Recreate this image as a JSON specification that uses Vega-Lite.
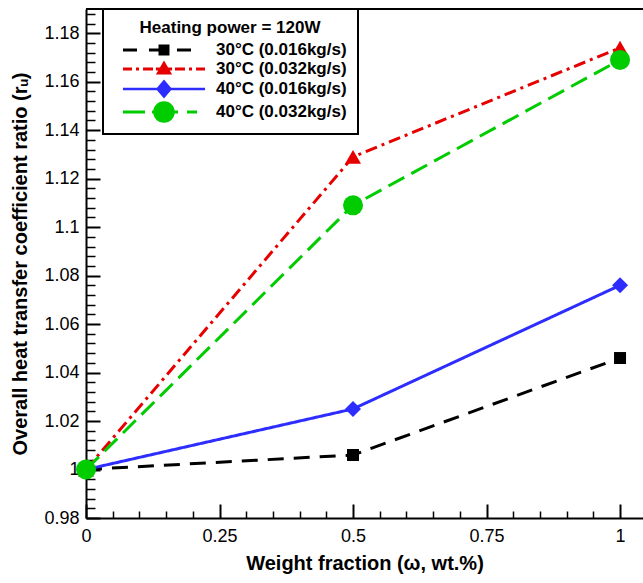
{
  "$schema": "https://vega.github.io/schema/vega-lite/v6.json",
  "width": 557,
  "height": 509,
  "autosize": {"type": "none"},
  "padding": {"left": 86, "top": 9, "right": 0, "bottom": 65},
  "config": {"view": {"stroke": null}, "font": "Liberation Sans", "legend": {"strokeWidth": 2}},
  "data": {
    "values": [
      {"series": "30°C (0.016kg/s)", "w": 0, "r": 1.0},
      {"series": "30°C (0.016kg/s)", "w": 0.5, "r": 1.006},
      {"series": "30°C (0.016kg/s)", "w": 1, "r": 1.046},
      {"series": "30°C (0.032kg/s)", "w": 0, "r": 1.0},
      {"series": "30°C (0.032kg/s)", "w": 0.5, "r": 1.129},
      {"series": "30°C (0.032kg/s)", "w": 1, "r": 1.174},
      {"series": "40°C (0.016kg/s)", "w": 0, "r": 1.0},
      {"series": "40°C (0.016kg/s)", "w": 0.5, "r": 1.025},
      {"series": "40°C (0.016kg/s)", "w": 1, "r": 1.076},
      {"series": "40°C (0.032kg/s)", "w": 0, "r": 1.0},
      {"series": "40°C (0.032kg/s)", "w": 0.5, "r": 1.109},
      {"series": "40°C (0.032kg/s)", "w": 1, "r": 1.169}
    ]
  },
  "encoding": {
    "x": {
      "field": "w", "type": "quantitative",
      "scale": {"domain": [0, 1.043], "nice": false, "zero": false},
      "axis": {
        "values": [0, 0.05, 0.1, 0.15, 0.2, 0.25, 0.3, 0.35, 0.4, 0.45, 0.5, 0.55, 0.6, 0.65, 0.7, 0.75, 0.8, 0.85, 0.9, 0.95, 1],
        "title": "Weight fraction (ω, wt.%)",
        "titleFontSize": 20, "titleFontWeight": "bold", "titleColor": "black", "titlePadding": 8,
        "labelFontSize": 18, "labelColor": "black", "labelPadding": 23,
        "labelFlush": false, "labelOverlap": false, "labelBound": false,
        "labelExpr": "abs(datum.value*4-round(datum.value*4))<0.001 ? format(datum.value,'~g') : ''",
        "ticks": true, "tickSize": -14, "tickColor": "black",
        "tickWidth": {"condition": {"test": "abs(datum.value*4-round(datum.value*4))<0.001", "value": 2}, "value": 1.5},
        "tickDash": {"condition": {"test": "abs(datum.value*4-round(datum.value*4))<0.001", "value": [20, 0]}, "value": [7, 30]},
        "domainColor": "black", "domainWidth": 2, "grid": false
      }
    },
    "y": {
      "field": "r", "type": "quantitative",
      "scale": {"domain": [0.98, 1.19], "nice": false, "zero": false},
      "axis": {
        "values": [0.98, 0.984, 0.988, 0.992, 0.996, 1, 1.004, 1.008, 1.012, 1.016, 1.02, 1.024, 1.028, 1.032, 1.036, 1.04, 1.044, 1.048, 1.052, 1.056, 1.06, 1.064, 1.068, 1.072, 1.076, 1.08, 1.084, 1.088, 1.092, 1.096, 1.1, 1.104, 1.108, 1.112, 1.116, 1.12, 1.124, 1.128, 1.132, 1.136, 1.14, 1.144, 1.148, 1.152, 1.156, 1.16, 1.164, 1.168, 1.172, 1.176, 1.18, 1.184, 1.188],
        "title": "Overall heat transfer coefficient ratio (rᵤ)",
        "titleFontSize": 20, "titleFontWeight": "bold", "titleColor": "black", "titlePadding": 13,
        "labelFontSize": 18, "labelColor": "black", "labelPadding": 21,
        "labelFlush": false, "labelOverlap": false, "labelBound": false,
        "labelExpr": "abs(datum.value*50-round(datum.value*50))<0.0001 ? format(datum.value,'~g') : ''",
        "ticks": true, "tickSize": -14, "tickColor": "black",
        "tickWidth": {"condition": {"test": "abs(datum.value*50-round(datum.value*50))<0.0001", "value": 2}, "value": 1.5},
        "tickDash": {"condition": {"test": "abs(datum.value*50-round(datum.value*50))<0.0001", "value": [20, 0]}, "value": [9, 30]},
        "domainColor": "black", "domainWidth": 2, "grid": false
      }
    }
  },
  "layer": [
    {
      "mark": {"type": "line", "strokeWidth": 3},
      "encoding": {
        "color": {
          "field": "series", "type": "nominal",
          "scale": {
            "domain": ["30°C (0.016kg/s)", "30°C (0.032kg/s)", "40°C (0.016kg/s)", "40°C (0.032kg/s)"],
            "range": ["#000000", "#e60000", "#2d2dff", "#00cc00"]
          },
          "legend": {
            "orient": "none", "legendX": 17, "legendY": 0, "direction": "vertical",
            "title": "Heating power = 120W", "titleLimit": 400,
            "titleFontSize": 17, "titleFontWeight": "bold", "titleColor": "black",
            "titleAnchor": "middle", "titlePadding": 4,
            "padding": 11, "strokeColor": "black", "fillColor": "white",
            "symbolSize": 324, "symbolStrokeWidth": 0, "symbolOffset": 41, "symbolOpacity": 1,
            "labelOffset": 43, "labelFontSize": 17, "labelFontWeight": "bold", "labelColor": "black",
            "labelLimit": 400, "rowPadding": 2
          }
        },
        "strokeDash": {
          "field": "series", "type": "nominal",
          "scale": {
            "domain": ["30°C (0.016kg/s)", "30°C (0.032kg/s)", "40°C (0.016kg/s)", "40°C (0.032kg/s)"],
            "range": [[16, 10], [12, 5, 3, 5], [1, 0], [18, 8]]
          },
          "legend": null
        }
      }
    },
    {
      "mark": {"type": "point", "filled": true, "size": 0, "opacity": 1},
      "encoding": {
        "color": {"field": "series", "type": "nominal"},
        "shape": {
          "field": "series", "type": "nominal",
          "scale": {
            "domain": ["30°C (0.016kg/s)", "30°C (0.032kg/s)", "40°C (0.016kg/s)", "40°C (0.032kg/s)"],
            "range": [
              "M-4.56,-0.17H-3V0.17H-4.56ZM-1.67,-0.17H0.56V0.17H-1.67ZM1.44,-0.17H3V0.17H1.44ZM-0.61,-0.61H0.61V0.61H-0.61Z",
              "M-4.56,-0.17H-3.56V0.17H-4.56ZM-3.11,-0.17H-2.78V0.17H-3.11ZM-2.33,-0.17H-1.22V0.17H-2.33ZM-0.9,-0.17H0.9V0.17H-0.9ZM1.22,-0.17H2.33V0.17H1.22ZM2.78,-0.17H3.11V0.17H2.78ZM3.56,-0.17H4.56V0.17H3.56ZM0,-0.95L0.9,0.62H-0.9Z",
              "M-4.56,-0.15H4.56V0.15H-4.56ZM0,-1.05L0.9,0L0,1.05L-0.9,0Z",
              "M-4.56,-0.17H-2.11V0.17H-4.56ZM-1.33,-0.17H1.56V0.17H-1.33ZM2.56,-0.17H3.67V0.17H2.56ZM1.2,0A1.2,1.2,0,1,1,-1.2,0A1.2,1.2,0,1,1,1.2,0Z"
            ]
          },
          "legend": {
            "orient": "none", "legendX": 17, "legendY": 0, "direction": "vertical",
            "title": "Heating power = 120W", "titleLimit": 400,
            "titleFontSize": 17, "titleFontWeight": "bold", "titleColor": "black",
            "titleAnchor": "middle", "titlePadding": 4,
            "padding": 11, "strokeColor": "black", "fillColor": "white",
            "symbolSize": 324, "symbolStrokeWidth": 0, "symbolOffset": 41, "symbolOpacity": 1,
            "labelOffset": 43, "labelFontSize": 17, "labelFontWeight": "bold", "labelColor": "black",
            "labelLimit": 400, "rowPadding": 2
          }
        }
      }
    },
    {
      "transform": [{"filter": "datum.series === '30°C (0.016kg/s)'"}],
      "mark": {"type": "point", "filled": true, "opacity": 1, "shape": "square", "size": 144},
      "encoding": {"color": {"field": "series", "type": "nominal"}}
    },
    {
      "transform": [{"filter": "datum.series === '30°C (0.032kg/s)'"}],
      "mark": {"type": "point", "filled": true, "opacity": 1, "shape": "triangle-up", "size": 256},
      "encoding": {"color": {"field": "series", "type": "nominal"}}
    },
    {
      "transform": [{"filter": "datum.series === '40°C (0.016kg/s)'"}],
      "mark": {"type": "point", "filled": true, "opacity": 1, "shape": "diamond", "size": 256},
      "encoding": {"color": {"field": "series", "type": "nominal"}}
    },
    {
      "transform": [{"filter": "datum.series === '40°C (0.032kg/s)'"}],
      "mark": {"type": "point", "filled": true, "opacity": 1, "shape": "circle", "size": 400},
      "encoding": {"color": {"field": "series", "type": "nominal"}}
    },
    {
      "mark": {"type": "rule", "color": "black", "strokeWidth": 2},
      "encoding": {"x": null, "y": {"datum": 1.19, "type": "quantitative"}}
    }
  ]
}
